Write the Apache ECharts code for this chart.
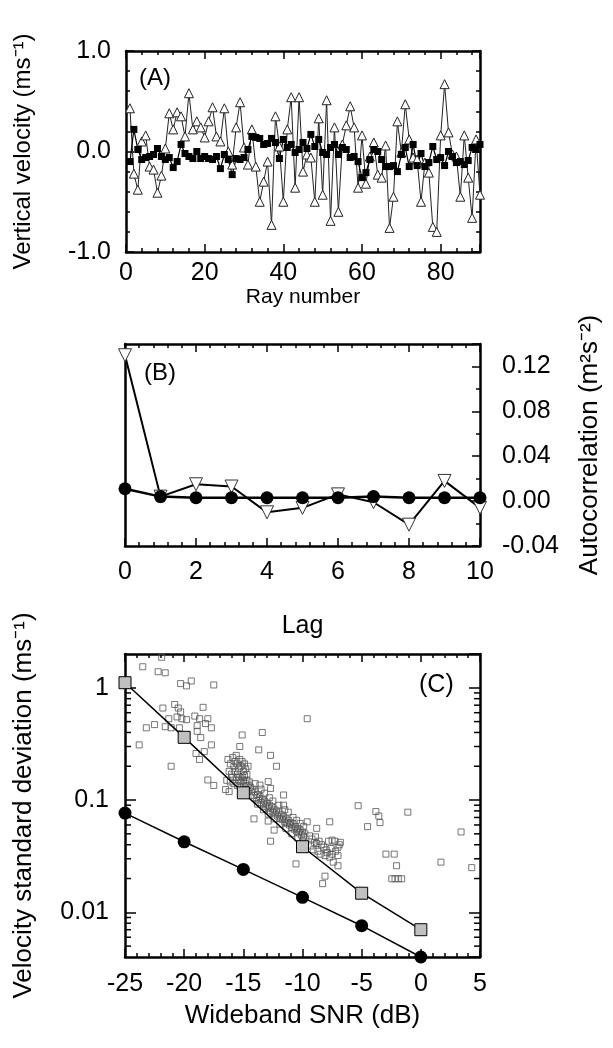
<!DOCTYPE html>
<html>
<head>
<meta charset="utf-8">
<script src="https://cdn.jsdelivr.net/npm/echarts@6/dist/echarts.min.js"></script>
<style>
  html, body { margin: 0; padding: 0; background: #fff; }
  #chart { width: 613px; height: 1048px; }
</style>
</head>
<body>
<div id="chart"></div>
<script>
// panel A: vertical velocity per ray
var rays = [];
for (var r = 1; r <= 90; r++) rays.push(r);
var velTriangles = [
  0.43, -0.22, -0.38, 0.10, 0.16, -0.15, -0.18, -0.41, -0.24, 0.03,
  0.38, 0.22, 0.39, 0.35, 0.15, 0.58, 0.22, 0.30, 0.24, 0.14,
  0.30, 0.44, 0.15, 0.10, 0.43, 0.00, -0.13, 0.24, 0.49, 0.04,
  -0.13, 0.22, -0.15, -0.50, -0.30, -0.10, -0.73, 0.35, 0.05, -0.50,
  0.22, 0.54, -0.36, 0.54, -0.20, -0.03, -0.06, -0.50, 0.33, -0.43,
  0.51, -0.69, 0.24, -0.60, 0.07, 0.26, 0.45, 0.24, -0.36, 0.16,
  -0.32, -0.05, 0.09, -0.23, -0.26, 0.06, -0.76, -0.45, 0.30, -0.01,
  0.47, 0.12, -0.06, -0.08, -0.50, -0.11, -0.21, -0.75, -0.80, 0.16,
  0.67, 0.19, -0.03, -0.05, -0.45, 0.16, -0.26, -0.66, 0.12, -0.43
];
var velSquares = [
  -0.10, 0.22, 0.02, -0.08, -0.06, -0.05, -0.03, 0.03, -0.05, -0.08,
  -0.06, -0.16, -0.10, 0.07, -0.02, -0.05, -0.07, 0.00, -0.07, -0.05,
  -0.07, -0.08, -0.05, -0.17, -0.03, -0.08, -0.23, -0.07, -0.08, -0.06,
  0.02, 0.15, 0.14, 0.13, 0.07, 0.08, 0.13, 0.09, -0.07, 0.12,
  0.04, 0.07, -0.01, 0.02, 0.09, 0.03, 0.17, 0.05, 0.12, -0.01,
  -0.03, 0.04, 0.07, -0.03, 0.04, 0.02, -0.06, -0.05, -0.10, -0.26,
  -0.21, -0.08, 0.02, 0.00, -0.08, -0.15, -0.15, -0.14, -0.20, -0.03,
  0.04, -0.15, 0.07, -0.14, -0.02, -0.15, -0.11, 0.05, -0.08, -0.06,
  -0.14, 0.00, -0.05, -0.11, -0.10, -0.13, -0.09, 0.04, 0.02, 0.07
];

// panel B: autocorrelation vs lag
var lags = [0, 1, 2, 3, 4, 5, 6, 7, 8, 9, 10];
var acTriangles = [0.130, 0.004, 0.015, 0.013, -0.010, -0.006, 0.006, -0.001, -0.021, 0.018, -0.006];
var acCircles = [0.011, 0.004, 0.003, 0.003, 0.003, 0.003, 0.003, 0.004, 0.003, 0.003, 0.003];

// panel C: velocity std dev vs wideband SNR
var snr = [-25, -20, -15, -10, -5, 0];
var sdSquares = [1.11, 0.362, 0.116, 0.0384, 0.0148, 0.0070];
var sdCircles = [0.0766, 0.0425, 0.0241, 0.0136, 0.0076, 0.0040];
var sdScatter = [
  [-23.5,1.54],[-21.9,1.87],[-22.2,1.39],[-21.6,1.36],[-20.3,1.09],[-19.8,1.04],[-19.4,1.15],[-17.5,1.06],
  [-21.8,0.66],[-20.8,0.71],[-20.5,0.66],[-20.3,0.61],[-18.4,0.67],
  [-21.3,0.53],[-20.6,0.55],[-20.2,0.53],[-19.8,0.52],[-19.1,0.56],[-18.7,0.53],[-18.0,0.53],
  [-23.2,0.44],[-22.5,0.47],[-21.6,0.45],[-21.1,0.44],[-20.4,0.44],[-18.9,0.46],[-18.9,0.41],[-18.2,0.48],[-17.7,0.44],
  [-23.8,0.31],[-18.6,0.36],[-17.7,0.31],[-21.1,0.20],[-19.0,0.26],[-18.3,0.27],[-18.7,0.23],
  [-15.1,0.38],[-13.4,0.40],[-15.3,0.30],[-13.7,0.28],[-12.7,0.25],[-12.2,0.20],[-9.6,0.53],
  [-18.0,0.151],[-17.5,0.135],[-16.5,0.124],[-16.2,0.119],
  [-11.6,0.111],[-12.9,0.146],[-12.7,0.127],[-13.6,0.136],
  [-16.3,0.23],[-16.1,0.21],[-15.9,0.24],[-15.8,0.20],[-15.7,0.22],[-15.6,0.25],[-15.5,0.21],[-15.4,0.19],
  [-15.3,0.23],[-15.2,0.20],[-15.1,0.22],[-15.0,0.18],[-14.9,0.21],[-14.8,0.19],[-14.7,0.17],[-14.6,0.20],
  [-16.2,0.18],[-16.0,0.17],[-15.9,0.16],[-15.7,0.18],[-15.6,0.16],[-15.5,0.17],[-15.4,0.15],[-15.3,0.16],
  [-15.2,0.145],[-15.1,0.16],[-15.0,0.15],[-14.9,0.165],[-14.8,0.14],[-14.7,0.15],[-14.6,0.135],[-14.5,0.145],
  [-14.4,0.13],[-16.4,0.15],[-16.1,0.145],[-15.8,0.14],[-15.5,0.135],[-15.2,0.13],[-14.9,0.125],[-14.6,0.12],
  [-14.3,0.12],[-14.2,0.125],[-14.1,0.11],[-14.0,0.118],[-13.9,0.105],[-13.8,0.112],[-13.7,0.10],[-13.6,0.108],
  [-13.5,0.095],[-13.4,0.102],[-13.3,0.092],[-13.2,0.098],[-13.1,0.088],[-13.0,0.094],[-12.9,0.085],[-12.8,0.09],
  [-12.7,0.08],[-12.6,0.087],[-12.5,0.078],[-12.4,0.083],[-12.3,0.075],[-12.2,0.08],[-12.1,0.072],[-12.0,0.077],
  [-11.9,0.069],[-11.8,0.074],[-11.7,0.067],[-11.6,0.071],[-11.5,0.064],[-11.4,0.068],[-11.3,0.062],[-11.2,0.066],
  [-11.1,0.06],[-11.0,0.063],[-10.9,0.057],[-10.8,0.061],[-10.7,0.055],[-10.6,0.058],[-10.5,0.053],[-10.4,0.056],
  [-10.3,0.051],[-10.2,0.054],[-10.1,0.049],[-10.0,0.052],[-9.9,0.047],[-9.8,0.05],
  [-14.0,0.14],[-13.5,0.125],[-13.2,0.115],[-12.8,0.105],[-12.5,0.098],[-12.0,0.09],[-11.5,0.082],[-11.2,0.078],
  [-10.8,0.07],[-10.5,0.066],[-10.2,0.062],[-9.9,0.058],
  [-13.8,0.092],[-13.3,0.082],[-12.9,0.075],[-12.4,0.068],[-11.9,0.061],[-11.4,0.056],[-10.9,0.05],[-10.4,0.046],[-10.0,0.043],
  [-9.6,0.064],[-8.8,0.056],[-7.7,0.064],[-7.8,0.043],[-7.5,0.044],[-7.25,0.043],[-6.8,0.042],[-8.1,0.021],[-8.3,0.018],
  [-7.0,0.032],[-7.0,0.026],[-7.4,0.028],[-7.7,0.031],[-8.8,0.041],[-8.7,0.035],[-8.1,0.032],[-7.6,0.037],
  [-10.55,0.027],[-9.4,0.048],[-9.2,0.045],[-9.0,0.042],[-8.9,0.047],[-8.6,0.043],[-8.4,0.04],[-8.2,0.038],
  [-9.3,0.039],[-9.1,0.036],[-8.5,0.033],[-8.0,0.036],[-7.9,0.034],[-7.5,0.033],[-7.2,0.035],[-7.0,0.038],[-6.9,0.040],
  [-14.1,0.068],[-12.9,0.065],[-12.4,0.054],[-12.7,0.043],[-11.6,0.090],
  [-5.3,0.089],[-3.8,0.079],[-3.55,0.072],[-3.45,0.063],[-4.5,0.058],[-1.1,0.078],[3.4,0.052],[1.7,0.028],[4.3,0.025],
  [-2.95,0.033],[-2.25,0.033],[-2.05,0.026],[-2.45,0.0199],[-2.18,0.0199],[-1.9,0.0199],[-1.62,0.0199]
];
// minor ticks of the log axis (2..9 within each decade)
var logMinorTicks = [0.005, 0.006, 0.007, 0.008, 0.009, 0.02, 0.03, 0.04, 0.05, 0.06, 0.07, 0.08, 0.09,
  0.2, 0.3, 0.4, 0.5, 0.6, 0.7, 0.8, 0.9];

var FONT = 'Liberation Sans, Arial, sans-serif';
var chart = echarts.init(document.getElementById('chart'));

function zip(xs, ys) {
  var res = [];
  for (var i = 0; i < xs.length; i++) res.push([xs[i], ys[i]]);
  return res;
}

function frameAxis(extra) {
  var base = {
    axisLine: { show: true, onZero: false, lineStyle: { color: '#000', width: 2.5 } },
    axisTick: { show: true, inside: true, length: 8, lineStyle: { color: '#000', width: 1.5 } },
    minorTick: { show: true, length: 4, lineStyle: { color: '#000', width: 1.5 } },
    splitLine: { show: false },
    minorSplitLine: { show: false },
    axisLabel: { show: true, color: '#000', fontSize: 25, fontFamily: FONT },
    nameTextStyle: { color: '#000', fontSize: 24, fontFamily: FONT }
  };
  for (var k in extra) {
    if (typeof extra[k] === 'object' && base[k] && !Array.isArray(extra[k])) {
      base[k] = Object.assign({}, base[k], extra[k]);
    } else {
      base[k] = extra[k];
    }
  }
  return base;
}

var option = {
  backgroundColor: '#fff',
  animation: false,
  grid: [
    { left: 126, top: 51, width: 354, height: 201 },
    { left: 125, top: 344, width: 355, height: 202 },
    { left: 125, top: 654, width: 355, height: 303 }
  ],
  xAxis: [
    frameAxis({ type: 'value', gridIndex: 0, position: 'bottom', min: 0, max: 90, interval: 20,
      minorTick: { splitNumber: 5 }, axisLabel: { margin: 9, showMaxLabel: false },
      name: 'Ray number', nameLocation: 'middle', nameGap: 34, nameTextStyle: { fontSize: 21 } }),
    frameAxis({ type: 'value', gridIndex: 0, position: 'top', min: 0, max: 90, interval: 20,
      minorTick: { splitNumber: 5 }, axisLabel: { show: false } }),
    frameAxis({ type: 'value', gridIndex: 1, position: 'bottom', min: 0, max: 10, interval: 2,
      minorTick: { splitNumber: 5 }, axisLabel: { margin: 14 },
      name: 'Lag', nameLocation: 'middle', nameGap: 68, nameTextStyle: { fontSize: 25 } }),
    frameAxis({ type: 'value', gridIndex: 1, position: 'top', min: 0, max: 10, interval: 2,
      minorTick: { splitNumber: 5 }, axisLabel: { show: false } }),
    frameAxis({ type: 'value', gridIndex: 2, position: 'bottom', min: -25, max: 5, interval: 5,
      minorTick: { splitNumber: 5 }, axisLabel: { margin: 15 },
      name: 'Wideband SNR (dB)', nameLocation: 'middle', nameGap: 46, nameTextStyle: { fontSize: 26 } }),
    frameAxis({ type: 'value', gridIndex: 2, position: 'top', min: -25, max: 5, interval: 5,
      minorTick: { splitNumber: 5 }, axisLabel: { show: false } })
  ],
  yAxis: [
    frameAxis({ type: 'value', gridIndex: 0, position: 'left', min: -1, max: 1, interval: 1,
      minorTick: { splitNumber: 5 },
      axisLabel: { margin: 15, formatter: function (v) { return v.toFixed(1); } },
      name: 'Vertical velocity (ms⁻¹)', nameLocation: 'middle', nameGap: 91, nameRotate: 90 }),
    frameAxis({ type: 'value', gridIndex: 0, position: 'right', min: -1, max: 1, interval: 1,
      minorTick: { splitNumber: 5 }, axisLabel: { show: false } }),
    frameAxis({ type: 'value', gridIndex: 1, position: 'right', min: -0.04, max: 0.14, interval: 0.04,
      minorTick: { splitNumber: 2 },
      axisLabel: { margin: 22, showMaxLabel: false, formatter: function (v) { return v.toFixed(2); } },
      name: 'Autocorrelation (m²s⁻²)', nameLocation: 'middle', nameGap: 97, nameRotate: 90,
      nameTextStyle: { fontSize: 26 } }),
    frameAxis({ type: 'value', gridIndex: 1, position: 'left', min: -0.04, max: 0.14, interval: 0.04,
      minorTick: { show: false }, axisTick: { show: false }, axisLabel: { show: false } }),
    frameAxis({ type: 'log', gridIndex: 2, position: 'left', min: 0.004, max: 2, logBase: 10,
      minorTick: { show: false }, axisTick: { length: 11 },
      axisLabel: { margin: 16, showMinLabel: false, showMaxLabel: false,
        formatter: function (v) { return String(+v.toPrecision(3)); } },
      name: 'Velocity standard deviation (ms⁻¹)', nameLocation: 'middle', nameGap: 88, nameRotate: 90,
      nameTextStyle: { fontSize: 26 } }),
    frameAxis({ type: 'log', gridIndex: 2, position: 'right', min: 0.004, max: 2, logBase: 10,
      minorTick: { show: false }, axisTick: { length: 11 }, axisLabel: { show: false } })
  ],
  graphic: [
    { type: 'text', left: 139, top: 66, style: { text: '(A)', fontSize: 24, fontFamily: FONT, fill: '#000' } },
    { type: 'text', left: 144, top: 361, style: { text: '(B)', fontSize: 24, fontFamily: FONT, fill: '#000' } },
    { type: 'text', left: 419, top: 673, style: { text: '(C)', fontSize: 25, fontFamily: FONT, fill: '#000' } }
  ],
  series: [
    {
      type: 'line', xAxisIndex: 0, yAxisIndex: 0, data: zip(rays, velTriangles),
      symbol: 'triangle', symbolSize: 9,
      lineStyle: { color: '#222', width: 1 },
      itemStyle: { color: '#fff', borderColor: '#222', borderWidth: 1 }
    },
    {
      type: 'line', xAxisIndex: 0, yAxisIndex: 0, data: zip(rays, velSquares),
      symbol: 'rect', symbolSize: 7,
      lineStyle: { color: '#000', width: 1.2 },
      itemStyle: { color: '#000', borderColor: '#000', borderWidth: 0 }
    },
    {
      type: 'line', xAxisIndex: 2, yAxisIndex: 2, data: zip(lags, acTriangles),
      symbol: 'triangle', symbolRotate: 180, symbolSize: 13,
      lineStyle: { color: '#000', width: 2 },
      itemStyle: { color: '#fff', borderColor: '#333', borderWidth: 1 }
    },
    {
      type: 'line', xAxisIndex: 2, yAxisIndex: 2, data: zip(lags, acCircles),
      symbol: 'circle', symbolSize: 13,
      lineStyle: { color: '#000', width: 2.5 },
      itemStyle: { color: '#000', borderWidth: 0 }
    },
    {
      type: 'scatter', xAxisIndex: 4, yAxisIndex: 4, data: sdScatter,
      symbol: 'rect', symbolSize: 6,
      itemStyle: { color: 'rgba(255,255,255,0)', borderColor: '#555', borderWidth: 1 }
    },
    {
      type: 'line', xAxisIndex: 4, yAxisIndex: 4, data: zip(snr, sdSquares),
      symbol: 'rect', symbolSize: 12,
      lineStyle: { color: '#000', width: 1.5 },
      itemStyle: { color: '#c0c0c0', borderColor: '#000', borderWidth: 1 }
    },
    {
      type: 'line', xAxisIndex: 4, yAxisIndex: 4, data: zip(snr, sdCircles),
      symbol: 'circle', symbolSize: 13,
      lineStyle: { color: '#000', width: 1.5 },
      itemStyle: { color: '#000', borderWidth: 0 }
    },
    {
      type: 'custom', xAxisIndex: 4, yAxisIndex: 4, silent: true, clip: false,
      data: logMinorTicks.map(function (v) { return [-25, v]; }),
      renderItem: function (params, api) {
        var v = api.value(1);
        var a = api.coord([-25, v]);
        var b = api.coord([5, v]);
        return {
          type: 'group',
          children: [
            { type: 'line', shape: { x1: a[0], y1: a[1], x2: a[0] + 6, y2: a[1] }, style: { stroke: '#000', lineWidth: 1.5 } },
            { type: 'line', shape: { x1: b[0], y1: b[1], x2: b[0] - 6, y2: b[1] }, style: { stroke: '#000', lineWidth: 1.5 } }
          ]
        };
      }
    }
  ]
};

chart.setOption(option);
</script>
</body>
</html>
